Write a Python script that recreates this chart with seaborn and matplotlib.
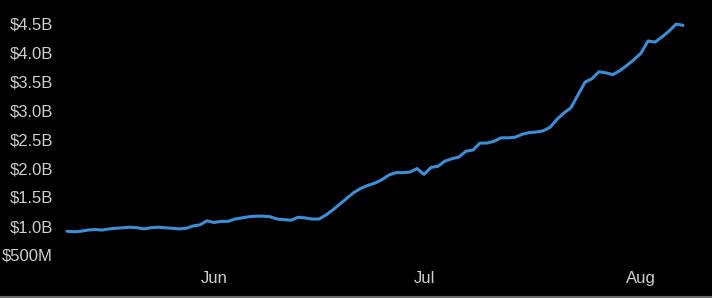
import numpy as np
import pandas as pd
import matplotlib
matplotlib.use("Agg")
import matplotlib.pyplot as plt
import matplotlib.dates as mdates
from matplotlib.lines import Line2D
import seaborn as sns

# ---- data (daily values, in billions of USD) ----
start_date = "2024-05-11"
values_b = [
    0.91, 0.90, 0.91, 0.93, 0.94, 0.93, 0.95, 0.96, 0.97, 0.98,
    0.97, 0.95, 0.97, 0.98, 0.97, 0.96, 0.95, 0.96, 1.00, 1.02,
    1.09, 1.06, 1.08, 1.08, 1.12, 1.14, 1.16, 1.17, 1.17, 1.16,
    1.12, 1.11, 1.10, 1.15, 1.14, 1.12, 1.12, 1.19, 1.28, 1.38,
    1.48, 1.58, 1.65, 1.70, 1.74, 1.80, 1.88, 1.92, 1.92, 1.93,
    1.99, 1.89, 2.01, 2.03, 2.12, 2.16, 2.19, 2.29, 2.31, 2.43,
    2.43, 2.46, 2.52, 2.52, 2.53, 2.58, 2.61, 2.62, 2.64, 2.70,
    2.84, 2.95, 3.04, 3.26, 3.48, 3.54, 3.66, 3.64, 3.61, 3.68,
    3.77, 3.87, 3.98, 4.19, 4.17, 4.26, 4.36, 4.48, 4.46,
]
ytick_values = [0.5, 1.0, 1.5, 2.0, 2.5, 3.0, 3.5, 4.0, 4.5]
ytick_labels = ["$500M", "$1.0B", "$1.5B", "$2.0B", "$2.5B",
                "$3.0B", "$3.5B", "$4.0B", "$4.5B"]
month_ticks = ["2024-06-01", "2024-07-01", "2024-08-01"]
month_labels = ["Jun", "Jul", "Aug"]

dates = pd.date_range(start_date, periods=len(values_b), freq="D")
df = pd.DataFrame({"date": dates, "value": values_b})

sns.set_theme(style="dark")
plt.rcParams["font.family"] = ["Liberation Sans", "DejaVu Sans"]

W, H = 712, 298
fig = plt.figure(figsize=(W / 100, H / 100), dpi=100, facecolor="black")
ax_left_px, ax_right_px, ax_top_px, ax_bot_px = 60, 700, 8, 265
ax = fig.add_axes([ax_left_px / W, (H - ax_bot_px) / H,
                   (ax_right_px - ax_left_px) / W, (ax_bot_px - ax_top_px) / H])
ax.set_facecolor("black")

sns.lineplot(data=df, x="date", y="value", ax=ax, color="#3b8ed8",
             linewidth=2.2)

jun1 = pd.Timestamp("2024-06-01")
px_per_day = 7.0
x0 = jun1 + pd.Timedelta(days=(ax_left_px - 214) / px_per_day)
x1 = jun1 + pd.Timedelta(days=(ax_right_px - 214) / px_per_day)
ax.set_xlim(x0, x1)
y0 = 1.0 + (226 - ax_bot_px) / 58.0
y1 = 1.0 + (226 - ax_top_px) / 58.0
ax.set_ylim(y0, y1)

ax.set_yticks(ytick_values)
ax.set_yticklabels(ytick_labels)
ax.set_xticks([mdates.date2num(pd.Timestamp(d)) for d in month_ticks])
ax.set_xticklabels(month_labels)

ax.tick_params(axis="both", length=0, colors="#cfcfcf", labelsize=12)
ax.tick_params(axis="y", pad=5)
ax.tick_params(axis="x", pad=4)
ax.set_xlabel("")
ax.set_ylabel("")
ax.grid(False)
for s in ax.spines.values():
    s.set_visible(False)

# thin gray rule along the bottom edge of the image
fig.add_artist(Line2D([0, 1], [1.2 / H, 1.2 / H], transform=fig.transFigure,
                      color="#6a6a6a", linewidth=1.5))

fig.savefig("out.png", dpi=100, facecolor="black")
